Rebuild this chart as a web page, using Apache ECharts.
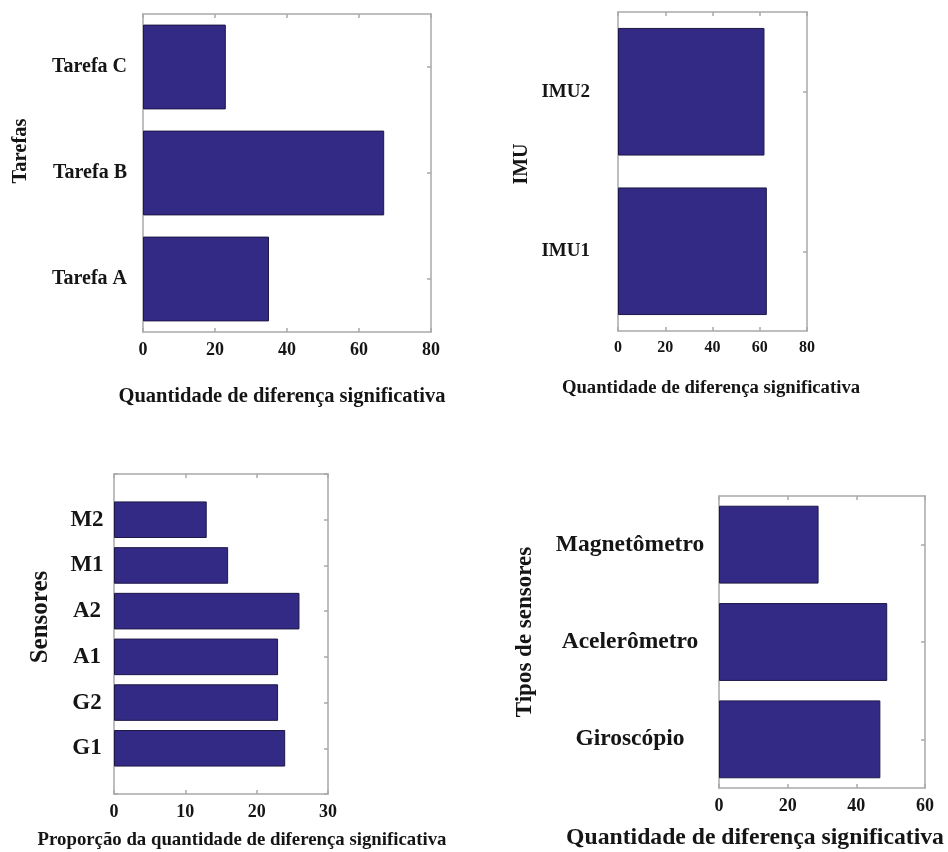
<!DOCTYPE html>
<html>
<head>
<meta charset="utf-8">
<script src="https://cdn.jsdelivr.net/npm/echarts@6/dist/echarts.min.js"></script>
<style>
  html, body { margin: 0; padding: 0; background: #fff; }
  #chart { width: 948px; height: 852px; }
</style>
</head>
<body>
<div id="chart"></div>
<script>
// Quantidade de diferença significativa por tarefa
const tarefas = ['Tarefa A', 'Tarefa B', 'Tarefa C'];
const tarefasValores = [35, 67, 23];
const tarefasTicks = [0, 20, 40, 60, 80];

// Por IMU
const imus = ['IMU1', 'IMU2'];
const imusValores = [63, 62];
const imusTicks = [0, 20, 40, 60, 80];

// Proporção por sensor
const sensores = ['G1', 'G2', 'A1', 'A2', 'M1', 'M2'];
const sensoresValores = [24, 23, 23, 26, 16, 13];
const sensoresTicks = [0, 10, 20, 30];

// Por tipo de sensor
const tipos = ['Giroscópio', 'Acelerômetro', 'Magnetômetro'];
const tiposValores = [47, 49, 29];
const tiposTicks = [0, 20, 40, 60];

const FONT = "'Liberation Serif', 'Times New Roman', serif";
const FRAME = '#a9a9a9';
const BAR = '#332a85';
const BAR_EDGE = '#1d1846';
const INK = '#151515';

const panels = [
  { grid: { left: 143, top: 14, width: 288, height: 318 }, cats: tarefas, vals: tarefasValores, ticks: tarefasTicks,
    tickFont: 18, catFont: 20, catAlign: 'right', catMargin: 16, pad: false },
  { grid: { left: 618, top: 12, width: 189, height: 319 }, cats: imus, vals: imusValores, ticks: imusTicks,
    tickFont: 16, catFont: 19, catAlign: 'right', catMargin: 28, pad: false },
  { grid: { left: 114, top: 474, width: 214, height: 320 }, cats: sensores, vals: sensoresValores, ticks: sensoresTicks,
    tickFont: 18, catFont: 23, catAlign: 'center', catMargin: 27, pad: true },
  { grid: { left: 719, top: 496, width: 206, height: 292 }, cats: tipos, vals: tiposValores, ticks: tiposTicks,
    tickFont: 18, catFont: 23.5, catAlign: 'center', catMargin: 89, pad: false }
];

const grids = [], xAxes = [], yAxes = [], series = [];

panels.forEach((p, i) => {
  grids.push(Object.assign({ containLabel: false }, p.grid));

  // The sensor panel leaves half a slot of space above and below the bars,
  // so its category axis gets an empty slot at each end.
  const cats = p.pad ? [''].concat(p.cats, ['']) : p.cats;
  const vals = p.pad ? [null].concat(p.vals, [null]) : p.vals;

  const min = p.ticks[0];
  const max = p.ticks[p.ticks.length - 1];
  const interval = p.ticks[1] - p.ticks[0];
  const lineStyle = { color: FRAME, width: 1.5 };

  // bottom value axis with labels
  xAxes.push({
    type: 'value', gridIndex: i, position: 'bottom', min, max, interval,
    axisLine: { show: true, onZero: false, lineStyle },
    axisTick: { show: true, inside: true, length: 4, lineStyle },
    splitLine: { show: false },
    axisLabel: { show: true, margin: 9, color: INK, fontFamily: FONT, fontWeight: 'bold', fontSize: p.tickFont }
  });
  // top edge of the box
  xAxes.push({
    type: 'value', gridIndex: i, position: 'top', min, max, interval,
    axisLine: { show: true, onZero: false, lineStyle },
    axisTick: { show: true, inside: true, length: 4, lineStyle },
    splitLine: { show: false },
    axisLabel: { show: false }
  });
  // left category axis
  yAxes.push({
    type: 'category', gridIndex: i, position: 'left', data: cats,
    boundaryGap: !p.pad,
    axisLine: { show: true, onZero: false, lineStyle },
    axisTick: { show: true, inside: true, length: 4, alignWithLabel: true, lineStyle },
    axisLabel: { show: true, interval: 0, margin: p.catMargin, align: p.catAlign, color: INK,
                 fontFamily: FONT, fontWeight: 'bold', fontSize: p.catFont }
  });
  // right edge of the box
  yAxes.push({
    type: 'category', gridIndex: i, position: 'right', data: cats,
    boundaryGap: !p.pad,
    axisLine: { show: true, onZero: false, lineStyle },
    axisTick: { show: true, inside: true, length: 4, alignWithLabel: true, lineStyle },
    axisLabel: { show: false }
  });

  series.push({
    type: 'bar',
    xAxisIndex: i * 2,
    yAxisIndex: i * 2,
    data: vals,
    barCategoryGap: '20%',
    itemStyle: { color: BAR, borderColor: BAR_EDGE, borderWidth: 1 },
    silent: true,
    animation: false
  });
});

// axis titles
function title(text, x, y, size, vertical) {
  return {
    type: 'text',
    x, y,
    rotation: vertical ? Math.PI / 2 : 0,
    style: {
      text,
      fill: INK,
      font: 'bold ' + size + 'px ' + FONT,
      textAlign: 'center',
      textVerticalAlign: 'middle'
    },
    silent: true
  };
}

const graphic = [
  title('Quantidade de diferença significativa', 282, 397, 20.5),
  title('Tarefas', 21, 151, 20.5, true),
  title('Quantidade de diferença significativa', 711, 388, 18.7),
  title('IMU', 522, 164, 20, true),
  title('Proporção da quantidade de diferença significativa', 242, 840, 18.8),
  title('Sensores', 41, 617, 25, true),
  title('Quantidade de diferença significativa', 755, 838, 23.7),
  title('Tipos de sensores', 525, 632, 23, true)
];

const chart = echarts.init(document.getElementById('chart'), null, { renderer: 'canvas' });
chart.setOption({
  backgroundColor: '#ffffff',
  animation: false,
  grid: grids,
  xAxis: xAxes,
  yAxis: yAxes,
  series,
  graphic
});
</script>
</body>
</html>
